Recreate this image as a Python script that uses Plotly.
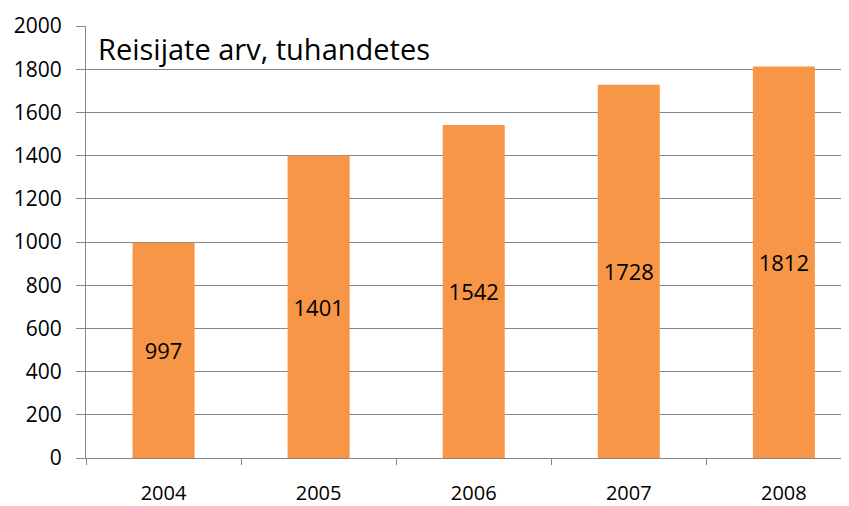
import plotly.graph_objects as go

# Passenger numbers (thousands) per year
years = ["2004", "2005", "2006", "2007", "2008"]
passengers = [997, 1401, 1542, 1728, 1812]
y_ticks = list(range(0, 2001, 200))

fig = go.Figure()

fig.add_trace(go.Bar(
    x=years,
    y=passengers,
    width=0.4,
    marker=dict(color="#F79646", line=dict(width=0)),
    text=[str(v) for v in passengers],
    textposition="inside",
    insidetextanchor="middle",
    textangle=0,
    textfont=dict(family="Open Sans", size=22, color="#000000"),
))

# title sits inside the plot area, top left
fig.add_annotation(
    text="Reisijate arv, tuhandetes",
    xref="paper", yref="paper",
    x=0.013, y=0.949,
    xanchor="left", yanchor="middle",
    showarrow=False,
    font=dict(family="Open Sans", size=29, color="#000000"),
)

# page body has an 8px margin, so the figure is a bit smaller than the window
fig.update_layout(
    width=841, height=498,
    margin=dict(l=78, r=0, t=18, b=48, autoexpand=False),
    paper_bgcolor="white",
    plot_bgcolor="white",
    showlegend=False,
    xaxis=dict(
        type="category",
        range=[-0.5, 4.42],
        tickson="boundaries",
        ticks="outside",
        ticklen=6,
        tickcolor="#868686",
        showline=True,
        linecolor="#868686",
        showgrid=False,
        ticklabelstandoff=17,
        tickfont=dict(family="Open Sans", size=20, color="#000000"),
    ),
    yaxis=dict(
        range=[0, 2000],
        tickvals=y_ticks,
        ticks="outside",
        ticklen=9,
        tickcolor="#868686",
        showline=True,
        linecolor="#868686",
        gridcolor="#868686",
        gridwidth=1,
        zeroline=False,
        ticklabelstandoff=10,
        tickfont=dict(family="Open Sans", size=21, color="#000000"),
    ),
)

fig.write_html("out.html")
